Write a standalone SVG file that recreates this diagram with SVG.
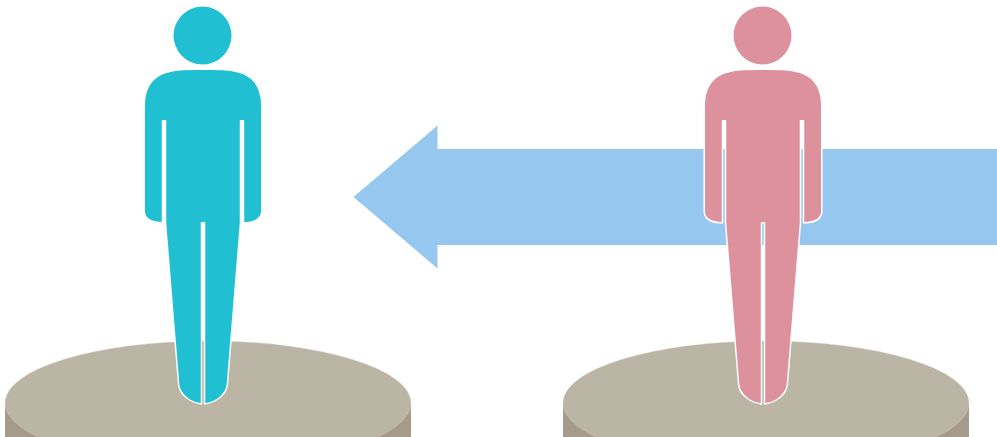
<svg xmlns="http://www.w3.org/2000/svg" width="997" height="437" viewBox="0 0 997 437">
<style>
.side{fill:#a69a8a}
.top{fill:#bab5a5;stroke:#d8d5ca;stroke-width:.4}
.body{stroke:#fff;stroke-width:1.5;stroke-linejoin:round}
.teal{fill:#20bfd2}
.pink{fill:#dd919d}
</style>
<defs>
<path id="fig" d="M203 69.200C228 69.200 261.800 67 261.800 106L261.800 212.500C260.500 219.500 253 222.800 243.500 222.800L243.500 120.700L240.500 120.700L240.500 222.800L231 340L227.300 385.500C225 397 214 402.500 204.500 404L204.500 222.800L201.500 222.800L201.500 404C192 402.500 181 397 178.700 385.500L175 340L165.500 222.800L165.500 120.700L162.500 120.700L162.500 222.800C153 222.800 145.500 219.500 144.200 212.500L144.200 106C144.200 67 178 69.200 203 69.200Z"/>
</defs>
<g id="platform-left">
<path class="side" d="M5 403L5 437L411 437L411 403Z"/>
<ellipse class="top" cx="208" cy="403" rx="203" ry="62"/>
</g>
<g id="platform-right">
<path class="side" d="M563 403L563 437L969 437L969 403Z"/>
<ellipse class="top" cx="766" cy="403" rx="203" ry="62"/>
</g>
<g id="connectors">
<path id="arrow" fill="#96c8ef" d="M997 149L437.500 149L437.500 125.500L353.500 197L437.500 268.500L437.500 245L997 245Z"/>
</g>
<g id="person-left">
<circle class="teal" cx="202.500" cy="35.500" r="29"/>
<use href="#fig" class="body teal"/>
</g>
<g id="person-right">
<circle class="pink" cx="762.500" cy="35.500" r="29"/>
<use href="#fig" x="560" class="body pink"/>
</g>
</svg>
